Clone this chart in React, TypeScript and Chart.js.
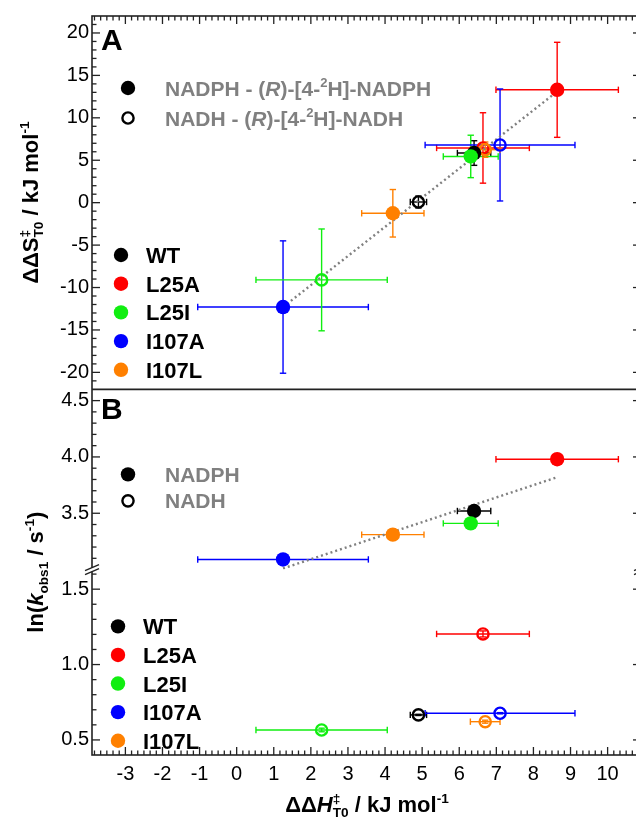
import React, { useEffect, useRef } from 'react';
import { Chart, registerables } from 'chart.js';

Chart.register(...registerables);

const FONT = '"Liberation Sans", Arial, Helvetica, sans-serif';

// ---------------- data ----------------
const variants = ['WT', 'L25A', 'L25I', 'I107A', 'I107L'];
const variantColors = ['#000000', '#ff0000', '#11ee11', '#0000ff', '#ff8000'];

// ΔΔH‡ (shared x for both panels)
const dH_NADPH = [6.40, 8.64, 6.31, 1.25, 4.21];
const dH_NADPH_err = [0.45, 1.65, 0.74, 2.30, 0.84];
const dH_NADH = [4.90, 6.64, 2.29, 7.10, 6.70];
const dH_NADH_err = [0.22, 1.25, 1.77, 2.02, 0.40];

// Panel A: ΔΔS‡
const dS_NADPH = [5.85, 13.3, 5.45, -12.3, -1.25];
const dS_NADPH_err = [1.45, 5.6, 2.5, 7.8, 2.8];
const dS_NADH = [0.08, 6.45, -9.1, 6.8, 6.25];
const dS_NADH_err = [0.7, 4.15, 6.0, 6.6, 0.9];

// Panel B: ln(kobs1)
const lnk_NADPH = [3.52, 3.98, 3.41, 3.09, 3.31];
const lnk_NADH = [0.666, 1.203, 0.566, 0.677, 0.621];
const lnk_NADH_err = [0.004, 0.02, 0.012, 0.004, 0.01];

// dotted trend lines
const trendA_x = [1.25, 8.64];
const trendA_y = [-12.3, 13.1];
const trendB_x = [1.25, 8.64];
const trendB_y = [3.01, 3.82];

// axes
const xTicks = [-3, -2, -1, 0, 1, 2, 3, 4, 5, 6, 7, 8, 9, 10];
const yATicks = [-20, -15, -10, -5, 0, 5, 10, 15, 20];
const yHighTicks = [3.5, 4.0, 4.5];
const yLowTicks = [0.5, 1.0, 1.5];

// ---------------- rich text helpers ----------------
type Run = { t: string; it?: boolean; sup?: boolean; sub?: boolean; stack?: boolean };

function runFont(r: Run, size: number, bold: boolean) {
  const s = r.sup || r.sub ? size * 0.62 : size;
  return `${r.it ? 'italic ' : ''}${bold ? 'bold ' : ''}${s}px ${FONT}`;
}
function runDy(r: Run, size: number) {
  return r.sup ? -0.42 * size : r.sub ? 0.24 * size : 0;
}
function layoutRuns(ctx: CanvasRenderingContext2D, runs: Run[], size: number, bold: boolean) {
  const items: { r: Run; x: number; dy: number }[] = [];
  let x = 0;
  for (let i = 0; i < runs.length; i++) {
    const r = runs[i];
    ctx.font = runFont(r, size, bold);
    const w = ctx.measureText(r.t).width;
    if (r.stack && i + 1 < runs.length) {
      const r2 = runs[i + 1];
      ctx.font = runFont(r2, size, bold);
      const w2 = ctx.measureText(r2.t).width;
      items.push({ r, x, dy: runDy(r, size) });
      items.push({ r: r2, x, dy: runDy(r2, size) });
      x += Math.max(w, w2);
      i++;
    } else {
      items.push({ r, x, dy: runDy(r, size) });
      x += w;
    }
  }
  return { items, width: x };
}
function drawRich(
  ctx: CanvasRenderingContext2D,
  runs: Run[],
  x: number,
  y: number,
  size: number,
  opts: { bold?: boolean; color?: string; align?: 'left' | 'center'; sx?: number; rotate?: boolean } = {}
) {
  const { bold = true, color = '#000', align = 'left', sx = 1, rotate = false } = opts;
  const { items, width } = layoutRuns(ctx, runs, size, bold);
  ctx.save();
  ctx.translate(x, y);
  if (rotate) ctx.rotate(-Math.PI / 2);
  ctx.scale(sx, 1);
  const x0 = align === 'center' ? -width / 2 : 0;
  ctx.fillStyle = color;
  ctx.textBaseline = 'alphabetic';
  ctx.textAlign = 'left';
  for (const it of items) {
    ctx.font = runFont(it.r, size, bold);
    ctx.fillText(it.r.t, x0 + it.x, it.dy);
  }
  ctx.restore();
}

// ---------------- drawing helpers ----------------
function line(ctx: CanvasRenderingContext2D, x1: number, y1: number, x2: number, y2: number) {
  ctx.beginPath();
  ctx.moveTo(x1, y1);
  ctx.lineTo(x2, y2);
  ctx.stroke();
}

function errBars(
  ctx: CanvasRenderingContext2D,
  xs: number[], xe: number[] | null, ys: number[], ye: number[] | null,
  sx: any, sy: any
) {
  const cap = 3.2;
  ctx.save();
  ctx.lineWidth = 1.4;
  for (let i = 0; i < xs.length; i++) {
    ctx.strokeStyle = variantColors[i];
    const px = sx.getPixelForValue(xs[i]);
    const py = sy.getPixelForValue(ys[i]);
    if (xe && xe[i] > 0) {
      const x1 = sx.getPixelForValue(xs[i] - xe[i]);
      const x2 = sx.getPixelForValue(xs[i] + xe[i]);
      line(ctx, x1, py, x2, py);
      line(ctx, x1, py - cap, x1, py + cap);
      line(ctx, x2, py - cap, x2, py + cap);
    }
    if (ye && ye[i] > 0) {
      const y1 = sy.getPixelForValue(ys[i] - ye[i]);
      const y2 = sy.getPixelForValue(ys[i] + ye[i]);
      line(ctx, px, y1, px, y2);
      line(ctx, px - cap, y1, px + cap, y1);
      line(ctx, px - cap, y2, px + cap, y2);
    }
  }
  ctx.restore();
}

function yTickMarks(ctx: CanvasRenderingContext2D, scale: any, majors: number[], step: number, left: number, right: number) {
  const k0 = Math.ceil(scale.min / step - 1e-6);
  const k1 = Math.floor(scale.max / step + 1e-6);
  for (let k = k0; k <= k1; k++) {
    const v = k * step;
    const py = scale.getPixelForValue(v);
    if (py <= scale.top + 0.5 || py >= scale.bottom - 0.5) continue;
    const major = majors.some((m) => Math.abs(m - v) < 1e-6);
    const len = major ? 8 : 4.5;
    line(ctx, left, py, left + len, py);
    line(ctx, right, py, right - len, py);
  }
}

function breakMark(ctx: CanvasRenderingContext2D, x: number, y: number) {
  ctx.save();
  ctx.fillStyle = '#ffffff';
  ctx.beginPath();
  ctx.moveTo(x - 7, y + 5);
  ctx.lineTo(x + 7, y - 1);
  ctx.lineTo(x + 7, y - 5);
  ctx.lineTo(x - 7, y + 1);
  ctx.closePath();
  ctx.fill();
  ctx.strokeStyle = '#222';
  ctx.lineWidth = 1.4;
  line(ctx, x - 7, y + 5, x + 7, y - 1);
  line(ctx, x - 7, y + 1, x + 7, y - 5);
  ctx.restore();
}

function legendDot(ctx: CanvasRenderingContext2D, x: number, y: number, color: string, open: boolean) {
  ctx.save();
  ctx.beginPath();
  if (open) {
    ctx.arc(x, y, 5.6, 0, Math.PI * 2);
    ctx.strokeStyle = color;
    ctx.lineWidth = 2.4;
    ctx.stroke();
  } else {
    ctx.arc(x, y, 7.2, 0, Math.PI * 2);
    ctx.fillStyle = color;
    ctx.fill();
  }
  ctx.restore();
}

const decorPlugin = {
  id: 'decor',
  beforeDatasetsDraw(chart: any) {
    const ctx = chart.ctx as CanvasRenderingContext2D;
    const { x, yA, yHigh, yLow } = chart.scales;
    errBars(ctx, dH_NADPH, dH_NADPH_err, dS_NADPH, dS_NADPH_err, x, yA);
    errBars(ctx, dH_NADH, dH_NADH_err, dS_NADH, dS_NADH_err, x, yA);
    errBars(ctx, dH_NADPH, dH_NADPH_err, lnk_NADPH, null, x, yHigh);
    errBars(ctx, dH_NADH, dH_NADH_err, lnk_NADH, lnk_NADH_err, x, yLow);
  },
  afterDraw(chart: any) {
    const ctx = chart.ctx as CanvasRenderingContext2D;
    const { x, yA, yHigh, yLow } = chart.scales;
    const { left, right, top, bottom } = chart.chartArea;

    ctx.save();
    ctx.strokeStyle = '#222';
    ctx.lineWidth = 1.6;
    ctx.strokeRect(left, top, right - left, bottom - top);
    line(ctx, left, yA.bottom, right, yA.bottom);

    // x ticks (top & bottom), minor every 1/6
    ctx.lineWidth = 1.3;
    const k0 = Math.ceil(x.min * 6 - 1e-6);
    const k1 = Math.floor(x.max * 6 + 1e-6);
    for (let k = k0; k <= k1; k++) {
      const px = x.getPixelForValue(k / 6);
      const len = k % 6 === 0 ? 8 : 4.5;
      line(ctx, px, bottom, px, bottom - len);
      line(ctx, px, top, px, top + len);
    }
    yTickMarks(ctx, yA, yATicks, 1, left, right);
    yTickMarks(ctx, yHigh, yHighTicks, 0.1, left, right);
    yTickMarks(ctx, yLow, yLowTicks, 0.1, left, right);
    ctx.restore();

    const yb = yHigh.bottom;
    breakMark(ctx, left, yb);
    breakMark(ctx, right, yb);

    // panel letters
    ctx.save();
    ctx.fillStyle = '#000';
    ctx.font = `bold 30px ${FONT}`;
    ctx.textBaseline = 'alphabetic';
    ctx.fillText('A', left + 9, top + 34);
    ctx.fillText('B', left + 9, yA.bottom + 30);
    ctx.restore();

    // axis titles
    drawRich(ctx, [{ t: 'ΔΔS' }, { t: '‡', sup: true, stack: true }, { t: 'T0', sub: true }, { t: ' / kJ mol' }, { t: '-1', sup: true }],
      38, (yA.top + yA.bottom) / 2, 22, { align: 'center', rotate: true });
    drawRich(ctx, [{ t: 'ln(' }, { t: 'k', it: true }, { t: 'obs1', sub: true }, { t: ' / s' }, { t: '-1', sup: true }, { t: ')' }],
      43, (yHigh.top + yLow.bottom) / 2, 22, { align: 'center', rotate: true });
    drawRich(ctx, [{ t: 'ΔΔ' }, { t: 'H', it: true }, { t: '‡', sup: true, stack: true }, { t: 'T0', sub: true }, { t: ' / kJ mol' }, { t: '-1', sup: true }],
      367, 812, 22, { align: 'center' });

    // cofactor legends
    const gray = '#808080';
    legendDot(ctx, left + 36, top + 72, '#000', false);
    legendDot(ctx, left + 36, top + 102, '#000', true);
    drawRich(ctx, [{ t: 'NADPH - (' }, { t: 'R', it: true }, { t: ')-[4-' }, { t: '2', sup: true }, { t: 'H]-NADPH' }],
      left + 73, top + 72 + 7.5, 21, { color: gray });
    drawRich(ctx, [{ t: 'NADH - (' }, { t: 'R', it: true }, { t: ')-[4-' }, { t: '2', sup: true }, { t: 'H]-NADH' }],
      left + 73, top + 102 + 7.5, 21, { color: gray });
    const bTop = yA.bottom;
    legendDot(ctx, left + 36, bTop + 85, '#000', false);
    legendDot(ctx, left + 36, bTop + 111.5, '#000', true);
    drawRich(ctx, [{ t: 'NADPH' }], left + 73, bTop + 85 + 7.5, 21, { color: gray });
    drawRich(ctx, [{ t: 'NADH' }], left + 73, bTop + 111.5 + 7.5, 21, { color: gray });

    // variant legends
    for (let i = 0; i < variants.length; i++) {
      const ya = top + 239 + i * 28.7;
      legendDot(ctx, left + 29, ya, variantColors[i], false);
      drawRich(ctx, [{ t: variants[i] }], left + 54, ya + 8, 22, {});
      const yb2 = bTop + 237 + i * 28.6;
      legendDot(ctx, left + 26, yb2, variantColors[i], false);
      drawRich(ctx, [{ t: variants[i] }], left + 51, yb2 + 8, 22, {});
    }
  },
};

function yAxis(min: number, max: number, weight: number, ticks: number[], digits: number) {
  return {
    type: 'linear',
    position: 'left',
    stack: 'left',
    stackWeight: weight,
    min,
    max,
    bounds: 'data',
    grid: { display: false, drawTicks: false },
    border: { display: false },
    ticks: {
      font: { family: FONT, size: 20 },
      color: '#000',
      padding: 3,
      autoSkip: false,
      callback: (v: any) => Number(v).toFixed(digits),
    },
    afterBuildTicks: (s: any) => {
      s.ticks = ticks.map((value) => ({ value }));
    },
    afterFit: (s: any) => {
      s.width = 92;
    },
  };
}

export default function App() {
  const ref = useRef<HTMLCanvasElement | null>(null);
  useEffect(() => {
    if (!ref.current) return;
    const pts = (xs: number[], ys: number[]) => xs.map((x, i) => ({ x, y: ys[i] }));
    const chart = new Chart(ref.current, {
      type: 'scatter',
      data: {
        datasets: [
          {
            label: 'A NADPH', data: pts(dH_NADPH, dS_NADPH), yAxisID: 'yA', showLine: false,
            pointRadius: 7.2, pointBorderWidth: 0, pointBackgroundColor: variantColors, pointBorderColor: variantColors,
          },
          {
            label: 'A NADH', data: pts(dH_NADH, dS_NADH), yAxisID: 'yA', showLine: false,
            pointRadius: 5.6, pointBorderWidth: 2.4, pointBackgroundColor: 'rgba(0,0,0,0)', pointBorderColor: variantColors,
          },
          {
            label: 'B NADPH', data: pts(dH_NADPH, lnk_NADPH), yAxisID: 'yHigh', showLine: false,
            pointRadius: 7.2, pointBorderWidth: 0, pointBackgroundColor: variantColors, pointBorderColor: variantColors,
          },
          {
            label: 'B NADH', data: pts(dH_NADH, lnk_NADH), yAxisID: 'yLow', showLine: false,
            pointRadius: 5.6, pointBorderWidth: 2.4, pointBackgroundColor: 'rgba(0,0,0,0)', pointBorderColor: variantColors,
          },
          {
            label: 'trend A', data: pts(trendA_x, trendA_y), yAxisID: 'yA', showLine: true,
            borderColor: '#808080', borderWidth: 2.4, borderDash: [2, 3], pointRadius: 0,
          },
          {
            label: 'trend B', data: pts(trendB_x, trendB_y), yAxisID: 'yHigh', showLine: true,
            borderColor: '#808080', borderWidth: 2.4, borderDash: [2, 3], pointRadius: 0,
          },
        ] as any,
      },
      options: {
        responsive: false,
        maintainAspectRatio: false,
        animation: false,
        events: [],
        layout: { autoPadding: false, padding: { left: 0, top: 16, right: 3, bottom: 0 } },
        plugins: { legend: { display: false }, title: { display: false }, tooltip: { enabled: false } },
        scales: {
          x: {
            type: 'linear',
            position: 'bottom',
            min: -3.9,
            max: 10.9,
            bounds: 'data',
            grid: { display: false, drawTicks: false },
            border: { display: false },
            ticks: {
              font: { family: FONT, size: 20 },
              color: '#000',
              padding: 7,
              autoSkip: false,
              maxRotation: 0,
              callback: (v: any) => String(v),
            },
            afterBuildTicks: (s: any) => {
              s.ticks = xTicks.map((value) => ({ value }));
            },
            afterFit: (s: any) => {
              s.height = 69;
            },
          },
          yLow: yAxis(0.4, 1.63, 185.4, yLowTicks, 1),
          yHigh: yAxis(3.0, 4.6, 180.2, yHighTicks, 1),
          yA: yAxis(-22, 22, 373.3, yATicks, 0),
        } as any,
      },
      plugins: [decorPlugin],
    });
    return () => chart.destroy();
  }, []);

  return (
    <div style={{ position: 'absolute', left: 0, top: 0, width: 636, height: 824, overflow: 'hidden', background: '#fff' }}>
      <div style={{ position: 'relative', width: 644, height: 824 }}>
        <canvas ref={ref} width={644} height={824} style={{ display: 'block', width: 644, height: 824 }} />
      </div>
    </div>
  );
}
